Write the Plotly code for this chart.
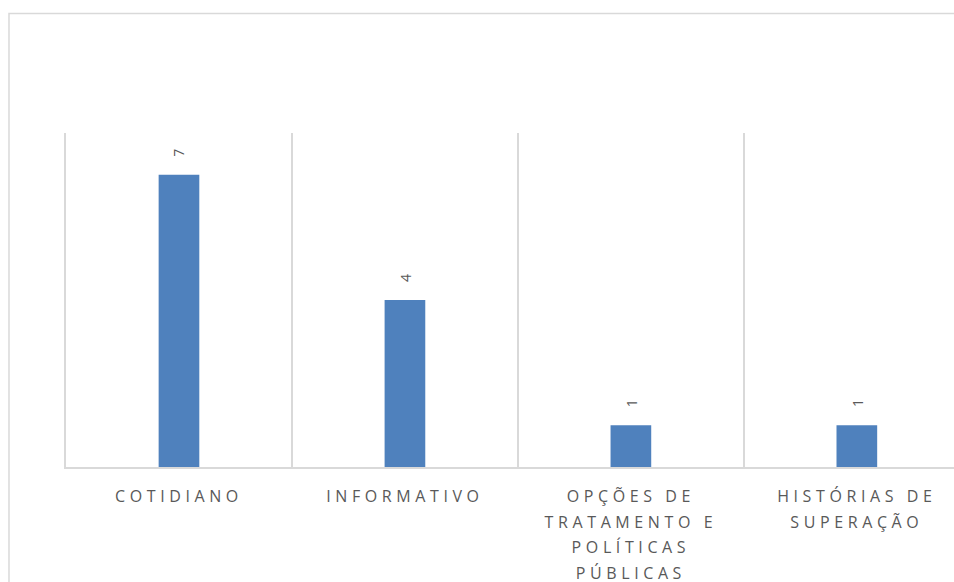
import plotly.graph_objects as go

# Categories and counts
categories = [
    "COTIDIANO",
    "INFORMATIVO",
    "OPÇÕES DE<br>TRATAMENTO E<br>POLÍTICAS<br>PÚBLICAS",
    "HISTÓRIAS DE<br>SUPERAÇÃO",
]
values = [7, 4, 1, 1]

BAR_COLOR = "#4f81bd"
GRID_COLOR = "#d9d9d9"
TEXT_COLOR = "#595959"
FONT = "Open Sans"

fig = go.Figure()
fig.add_trace(go.Bar(
    x=categories,
    y=values,
    width=0.18,
    marker=dict(color=BAR_COLOR, line=dict(width=0)),
    hoverinfo="skip",
))

# Rotated value labels above each bar
for cat, val in zip(categories, values):
    fig.add_annotation(
        x=cat, y=val, text=str(val), textangle=-90,
        showarrow=False, xanchor="center", yanchor="middle", yshift=22,
        font=dict(family=FONT, size=14, color=TEXT_COLOR),
    )

# Light outer frame of the chart area
fig.add_shape(
    type="rect", xref="paper", yref="paper",
    x0=-0.0642, x1=1.2, y0=-0.6, y1=1.358,
    line=dict(color=GRID_COLOR, width=1.5), fillcolor="rgba(0,0,0,0)",
    layer="below",
)

fig.update_layout(
    width=954, height=582,
    margin=dict(l=66, r=0, t=133, b=115),
    paper_bgcolor="white", plot_bgcolor="white",
    showlegend=False,
    font=dict(family=FONT, color=TEXT_COLOR),
    xaxis=dict(
        type="category",
        range=[-0.5, 3.43],
        showline=True, linecolor=GRID_COLOR, linewidth=1.5,
        showgrid=True, gridcolor=GRID_COLOR, gridwidth=1.5,
        tickson="boundaries", ticks="", tickangle=0,
        ticklabelstandoff=14,
        tickfont=dict(family=FONT, size=16, color=TEXT_COLOR),
        zeroline=False, fixedrange=True,
    ),
    yaxis=dict(
        range=[0, 8],
        showline=True, linecolor=GRID_COLOR, linewidth=1.5,
        showgrid=False, showticklabels=False, ticks="",
        zeroline=False, fixedrange=True,
    ),
)

# Spaced-out category labels with taller line spacing
post = """
var gd = document.getElementById('{plot_id}');
gd.querySelectorAll('.xtick text').forEach(function(t) {
    t.style.letterSpacing = '4.6px';
    t.querySelectorAll('tspan.line').forEach(function(s, i) {
        s.setAttribute('dy', (i * 1.6) + 'em');
    });
});
"""

fig.write_html("out.html", post_script=post, config={"displayModeBar": False})
